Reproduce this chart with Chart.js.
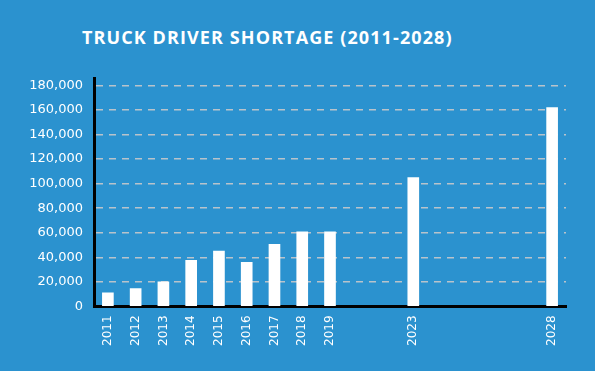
<!DOCTYPE html>
<html>
<head>
<meta charset="utf-8">
<script src="https://cdn.jsdelivr.net/npm/chart.js@4"></script>
<style>
  html, body { margin: 0; padding: 0; }
  body { background: #2B92CF; width: 595px; height: 371px; overflow: hidden; position: relative; }
  #title {
    position: absolute; left: 82px; top: 25px;
    color: #fff; font-family: "Open Sans", sans-serif; font-weight: 700;
    font-size: 18px; letter-spacing: 1.1px; white-space: nowrap;
  }
  #wrap { position: absolute; left: 0; top: 0; width: 595px; height: 371px; }
</style>
</head>
<body>
<div id="title">TRUCK DRIVER SHORTAGE (2011-2028)</div>
<div id="wrap"><canvas id="shortage"></canvas></div>
<script>
// years, with empty slots for the gap years
const years = ['2011', '2012', '2013', '2014', '2015', '2016', '2017', '2018', '2019',
               '', '', '2023', '', '', '', '', '2028'];
const shortage = [11000, 14500, 20000, 37500, 45000, 36000, 50500, 60800, 60800,
                  null, null, 105000, null, null, null, null, 162000];
const yTicks = [0, 20000, 40000, 60000, 80000, 100000, 120000, 140000, 160000, 180000];

const ctx = document.getElementById('shortage');
const myChart = new Chart(ctx, {
    type: 'bar',
    data: {
        labels: years,
        datasets: [{
            label: 'Truck driver shortage',
            data: shortage,
            backgroundColor: '#ffffff',
            barThickness: 11
        }]
    },
    options: {
        responsive: true,
        maintainAspectRatio: false,
        animation: false,
        layout: { padding: { top: 78, right: 29, bottom: 16, left: 0 } },
        plugins: {
            legend: { display: false },
            tooltip: { enabled: false }
        },
        scales: {
            x: {
                grid: { display: false, drawTicks: false },
                border: { color: '#000', width: 3 },
                ticks: {
                    color: '#fff',
                    autoSkip: false,
                    minRotation: 90,
                    maxRotation: 90,
                    padding: 9,
                    font: { family: 'DejaVu Sans', size: 12 }
                }
            },
            y: {
                min: 0,
                max: 186000,
                afterBuildTicks: scale => {
                    scale.ticks = yTicks.map(v => ({ value: v })).concat([{ value: 186000 }]);
                },
                afterFit: scale => { scale.width = 94; },
                grid: {
                    drawTicks: false,
                    lineWidth: 1.5,
                    color: c => (c.tick && c.tick.value % 20000 === 0 && c.tick.value > 0) ? '#B9C3CB' : 'rgba(0,0,0,0)'
                },
                border: { color: '#000', width: 3, dash: [7, 6] },
                ticks: {
                    color: '#fff',
                    padding: 11,
                    font: { family: 'DejaVu Sans', size: 13 },
                    callback: v => (v % 20000 === 0) ? v.toLocaleString('en-US') : ''
                }
            }
        }
    }
});
</script>
</body>
</html>
